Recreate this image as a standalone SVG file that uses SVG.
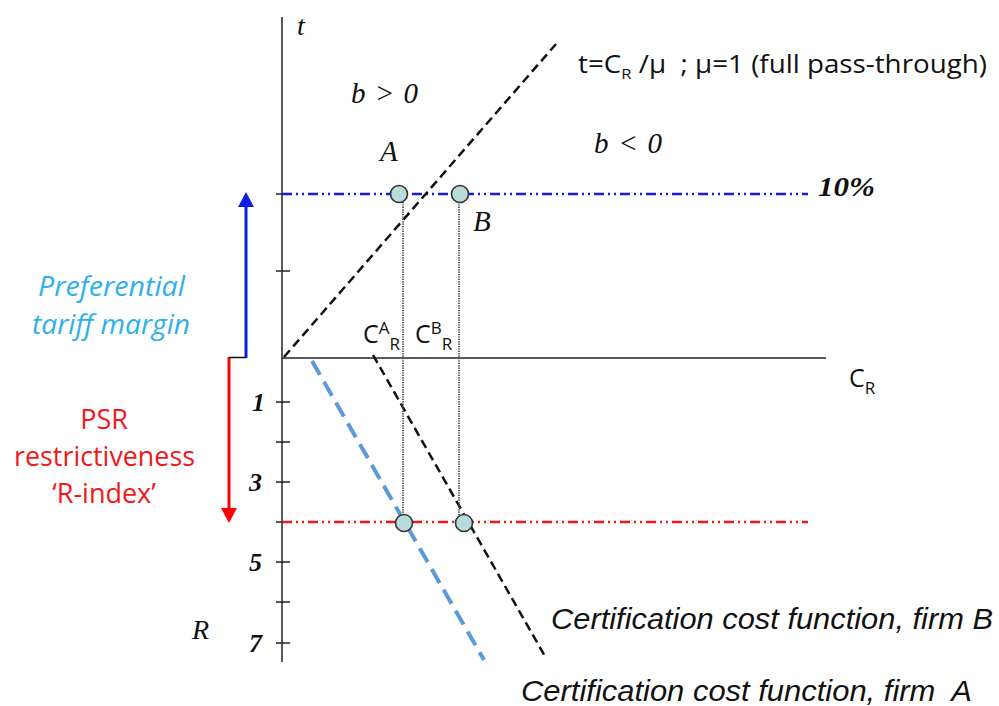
<svg xmlns="http://www.w3.org/2000/svg" width="999" height="706" viewBox="0 0 999 706">
<defs>
<style>
.ax{stroke:#222;stroke-width:1.5;fill:none}
.serif{font-family:"Liberation Serif","DejaVu Serif",serif;font-style:italic;fill:#111}
.sans{font-family:"Open Sans","Liberation Sans",sans-serif;fill:#111}
.it{font-family:"Liberation Sans",Arial,sans-serif;font-style:italic;fill:#111;font-size:29px}
.dot{stroke:#555;stroke-width:2;stroke-dasharray:1.2 1.2;fill:none}
.pt{fill:#b8dcdc;stroke:#333;stroke-width:1.6}
.num{font-family:"Liberation Serif","DejaVu Serif",serif;font-style:italic;font-weight:bold;fill:#111;font-size:26px}
</style>
</defs>
<rect width="999" height="706" fill="#fff"/>
<g id="axes">
<line class="ax" x1="282" y1="17" x2="282" y2="662"/>
<line class="ax" x1="282" y1="358" x2="826" y2="358"/>
<path class="ax" d="M276,194H290M276,271H290M276,402H290M276,442H290M276,482H290M276,522H290M276,562H290M276,602H290M276,643H290"/>
</g>
<g id="connectors">
<line x1="282" y1="194" x2="808" y2="194" stroke="#1a1ae0" stroke-width="2.5" stroke-dasharray="10 4 2 4 2 4"/>
<line x1="282" y1="522" x2="808" y2="522" stroke="#f01818" stroke-width="2.5" stroke-dasharray="10 4 2 4 2 4"/>
<line x1="284" y1="357" x2="556" y2="44" stroke="#111" stroke-width="2.5" stroke-dasharray="9 5"/>
<line x1="373" y1="355" x2="546" y2="658" stroke="#111" stroke-width="2.5" stroke-dasharray="9 5"/>
<line x1="312" y1="361" x2="484" y2="660" stroke="#5b9bd5" stroke-width="4" stroke-dasharray="16 8"/>
<line class="dot" x1="403" y1="202" x2="403" y2="515"/>
<line class="dot" x1="459" y1="202" x2="459" y2="515"/>
<line x1="246" y1="358" x2="246" y2="205" stroke="#0a1ee6" stroke-width="3"/>
<path d="M238,207 L246,192 L254,207 Z" fill="#0a1ee6"/>
<line x1="229" y1="357" x2="229" y2="510" stroke="#f00" stroke-width="3"/>
<path d="M221,508 L229,523 L237,508 Z" fill="#f00"/>
<line x1="229" y1="357.5" x2="246" y2="357.5" stroke="#111" stroke-width="1.5"/>
</g>
<g id="points">
<circle class="pt" cx="399" cy="194" r="8.5"/>
<circle class="pt" cx="460" cy="194" r="8.5"/>
<circle class="pt" cx="404" cy="523" r="8.5"/>
<circle class="pt" cx="464" cy="523" r="8.5"/>
</g>
<g id="labels">
<text class="serif" x="297" y="35" font-size="28">t</text>
<text class="serif" x="351" y="103" font-size="29" textLength="67">b &gt; 0</text>
<text class="serif" x="594" y="153" font-size="29" textLength="68">b &lt; 0</text>
<text class="serif" x="380" y="161" font-size="29">A</text>
<text class="serif" x="473" y="231" font-size="29">B</text>
<text class="serif" x="818" y="196" font-size="27" font-weight="bold" textLength="57" lengthAdjust="spacingAndGlyphs">10%</text>
<text class="sans" x="578" y="73" font-size="25" style="white-space:pre" textLength="409" lengthAdjust="spacingAndGlyphs">t=C<tspan font-size="15" dy="6">R</tspan><tspan dy="-6"> /μ  ; μ=1 (full pass-through)</tspan></text>
<text class="sans" x="363" y="343" font-size="25">C<tspan font-size="17" dy="-9">A</tspan><tspan font-size="17" dy="16">R</tspan></text>
<text class="sans" x="415" y="343" font-size="25">C<tspan font-size="17" dy="-9">B</tspan><tspan font-size="17" dy="16">R</tspan></text>
<text class="sans" x="849" y="387" font-size="25">C<tspan font-size="17" dy="7">R</tspan></text>
<text class="num" x="252" y="411">1</text>
<text class="num" x="249" y="491">3</text>
<text class="num" x="249" y="571">5</text>
<text class="num" x="249" y="652">7</text>
<text class="serif" x="192" y="639" font-size="28">R</text>
<text class="sans" x="38" y="296" font-size="27" font-style="italic" style="fill:#2eb0e8" textLength="147" lengthAdjust="spacingAndGlyphs">Preferential</text>
<text class="sans" x="32" y="334" font-size="27" font-style="italic" style="fill:#2eb0e8" textLength="158" lengthAdjust="spacingAndGlyphs">tariff margin</text>
<text class="sans" x="104" y="429" font-size="27" style="fill:#f01818" text-anchor="middle">PSR</text>
<text class="sans" x="14" y="466" font-size="27" style="fill:#f01818" textLength="181" lengthAdjust="spacingAndGlyphs">restrictiveness</text>
<text class="sans" x="104" y="503" font-size="27" style="fill:#f01818" text-anchor="middle">‘R-index’</text>
<text class="it" x="551" y="629" textLength="442" lengthAdjust="spacingAndGlyphs">Certification cost function, firm B</text>
<text class="it" x="521" y="701" textLength="451" lengthAdjust="spacingAndGlyphs" style="white-space:pre">Certification cost function, firm  A</text>
</g>
</svg>
